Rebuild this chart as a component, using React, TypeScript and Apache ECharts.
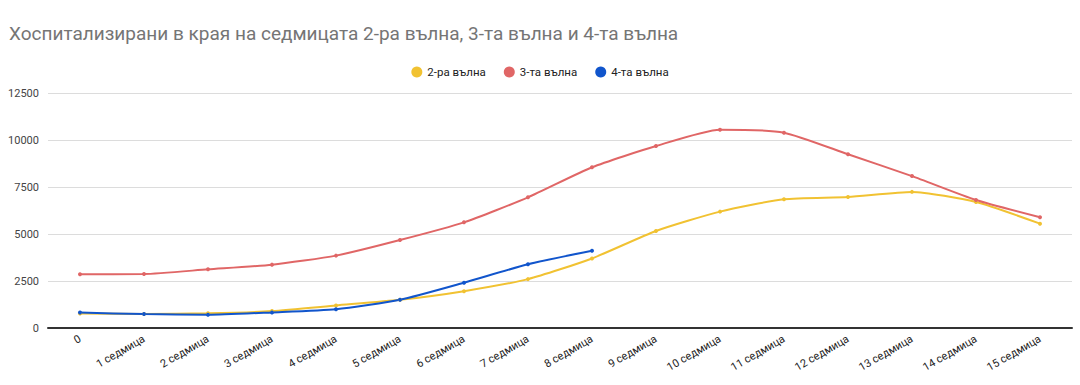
import React, { useEffect, useRef } from "react";
import * as echarts from "echarts";

const categories = ["0", "1 седмица", "2 седмица", "3 седмица", "4 седмица", "5 седмица", "6 седмица", "7 седмица", "8 седмица", "9 седмица", "10 седмица", "11 седмица", "12 седмица", "13 седмица", "14 седмица", "15 седмица"];
const wave2 = [770, 740, 780, 900, 1200, 1500, 1960, 2600, 3700, 5160, 6190, 6850, 6970, 7240, 6700, 5550];
const wave3 = [2860, 2870, 3120, 3370, 3850, 4680, 5620, 6950, 8550, 9680, 10550, 10390, 9240, 8080, 6810, 5890];
const wave4: (number | null)[] = [820, 740, 700, 830, 1000, 1500, 2410, 3390, 4110, null, null, null, null, null, null, null];
const yTicks = { min: 0, max: 12500, interval: 2500 };

export default function App() {
  const ref = useRef<HTMLDivElement>(null);
  useEffect(() => {
    const chart = echarts.init(ref.current!, null, { renderer: "svg" });
    const mk = (name: string, data: (number | null)[], color: string) => ({
      name,
      type: "line",
      data,
      smooth: 0.2,
      symbol: "circle",
      symbolSize: 4,
      showSymbol: true,
      lineStyle: { width: 2, color },
      itemStyle: { color },
      xAxisIndex: 0,
    });
    chart.setOption({
      animation: false,
      backgroundColor: "#ffffff",
      textStyle: { fontFamily: "Roboto" },
      title: {
        text: "Хоспитализирани в края на седмицата 2-ра вълна, 3-та вълна и 4-та вълна",
        left: 4,
        top: 19,
        textStyle: { fontFamily: "Roboto", fontSize: 19, fontWeight: "normal", color: "#757575" },
      },
      legend: {
        top: 61,
        left: "center",
        icon: "circle",
        itemWidth: 11,
        itemHeight: 11,
        itemGap: 18,
        textStyle: { fontFamily: "Roboto", fontSize: 11.5, color: "#222" },
        data: ["2-ра вълна", "3-та вълна", "4-та вълна"],
      },
      grid: { left: 48, right: 8, top: 93, bottom: 57, containLabel: false },
      xAxis: [
        {
          type: "category",
          data: categories,
          boundaryGap: true,
          axisLine: { lineStyle: { color: "#333", width: 2 } },
          axisTick: { alignWithLabel: true, length: 7, lineStyle: { color: "#333", width: 1 } },
          axisLabel: { rotate: 30, fontSize: 11, color: "#222", margin: 10, interval: 0 },
        },
        {
          type: "category",
          data: categories,
          position: "bottom",
          boundaryGap: true,
          axisLine: { show: false },
          axisTick: { inside: true, alignWithLabel: true, length: 6, lineStyle: { color: "#333", width: 1 } },
          axisLabel: { show: false },
        },
      ],
      yAxis: {
        type: "value",
        min: yTicks.min,
        max: yTicks.max,
        interval: yTicks.interval,
        axisLine: { show: false },
        axisTick: { show: false },
        axisLabel: { fontSize: 11, color: "#444", margin: 9, formatter: (v: number) => String(v) },
        splitLine: { lineStyle: { color: "#dcdcdc", width: 1 } },
      },
      series: [
        mk("2-ра вълна", wave2, "#f1c232"),
        mk("3-та вълна", wave3, "#e06666"),
        mk("4-та вълна", wave4, "#1155cc"),
      ],
    });
    return () => chart.dispose();
  }, []);
  return <div ref={ref} style={{ position: "fixed", left: 0, top: 0, width: 1080, height: 385 }} />;
}
